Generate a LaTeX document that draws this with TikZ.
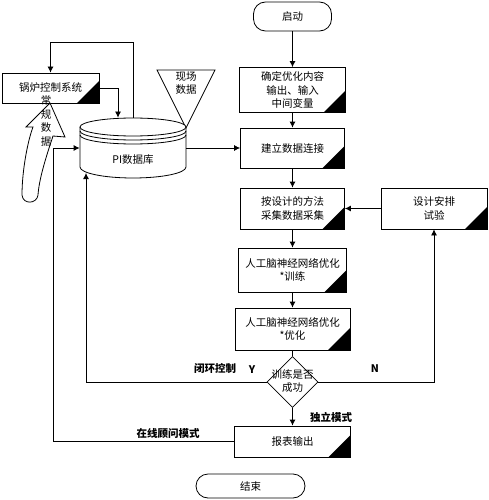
\documentclass[tikz,border=0pt]{standalone}
\usepackage{fontspec}
\setmainfont{Noto Sans CJK SC}
\usetikzlibrary{arrows.meta,shapes.geometric}
\begin{document}
\begin{tikzpicture}[x=1pt,y=-1pt,line width=0.8pt,
		font=\fontsize{10.5}{13.5}\selectfont,
		arr/.style={-{Latex[length=6pt,width=6pt]}},
		kasten/.style={draw,align=center,inner sep=0pt,path picture={\fill (path picture bounding box.south east)--++(-22pt,0pt)--++(22pt,22pt)--cycle;}},
		ende/.style={draw,rounded corners=12pt,inner sep=0pt},
		fett/.style={font=\fontsize{10.5}{13.5}\selectfont\bfseries}]
		\useasboundingbox (0,0) rectangle (488,500);
		% Ablauf rechts
		\node[ende,minimum width=78pt,minimum height=29pt] (start) at (292.5,16.5) {启动};
		\node[kasten,minimum width=106pt,minimum height=45pt] (inhalt) at (292.5,90) {确定优化内容\\输出、输入\\中间变量};
		\node[kasten,minimum width=104pt,minimum height=40pt] (verbind) at (292.5,148) {建立数据连接};
		\node[kasten,minimum width=104pt,minimum height=41pt] (sammeln) at (292.5,208.5) {按设计的方法\\采集数据采集};
		\node[kasten,minimum width=106pt,minimum height=41pt] (versuch) at (434,208.5) {设计安排\\试验};
		\node[kasten,minimum width=108pt,minimum height=44pt] (training) at (292.5,270) {人工脑神经网络优化\\*训练};
		\node[kasten,minimum width=115pt,minimum height=42pt] (optim) at (292.5,329) {人工脑神经网络优化\\*优化};
		\node[draw,diamond,minimum width=51pt,minimum height=51pt,inner sep=0pt] (frage) at (292.5,382) {};
		\node[kasten,minimum width=116pt,minimum height=31pt] (bericht) at (292.5,441.5) {报表输出};
		\node[ende,minimum width=109pt,minimum height=24pt] (ende) at (250.5,486) {结束};
		% links
		\node[kasten,minimum width=97pt,minimum height=30pt] (kessel) at (50.5,88) {锅炉控制系统};
		\draw[fill=white] (157,70)--(215,70)--(186,128)--cycle;
		\node[align=center] (feld) at (186,83) {现场\\数据};
		\node[minimum width=106pt,minimum height=60pt,inner sep=0pt] (pi) at (133,148) {};
		\draw[fill=white] (80,127)--(80,167) arc[start angle=180,end angle=0,x radius=53,y radius=11]--(186,127);
		\draw[fill=white] (133,127) ellipse[x radius=53,y radius=9];
		\draw (80,131) arc[start angle=180,end angle=0,x radius=53,y radius=9];
		\draw (80,135) arc[start angle=180,end angle=0,x radius=53,y radius=9];
		\node (pitext) at (133,160) {PI数据库};
		\coordinate (piunten) at (86,173);
		\draw[fill=white] (50,103)--(65,137)--(53,136) .. controls (45,160) and (39,180) .. (38,195) .. controls (37,204) and (23,205) .. (22,195) .. controls (22,170) and (28,140) .. (33,127)--(26,127)--cycle;
		\node[align=center] (regel) at (46,121) {常\\规\\数\\据};
		% Verbindungen
		\draw[arr] (start)--(inhalt);
		\draw[arr] (inhalt)--(verbind);
		\draw[arr] (verbind)--(sammeln);
		\draw[arr] (sammeln)--(training);
		\draw[arr] (training)--(optim);
		\draw (optim)--(frage);
		\draw[arr] (frage)--(bericht);
		\draw[arr] (versuch)--(sammeln);
		\draw[arr] (frage.east)-|(versuch.south);
		\draw[arr] (pi.east)--(verbind.west);
		\draw[arr] (kessel.east)-|([xshift=-15pt]pi.north);
		\draw[arr] (pi.north)--++(0,-75)-|(kessel.north);
		\draw[arr] (bericht.west)--++(-181,0)|-(pi.west);
		\draw[arr] (frage.west)-|(piunten);
		\node[align=center] (fragetext) at (292.5,381) {训练是否\\成功};
		\node[fett] (geschl) at (215,368) {闭环控制};
		\node[fett] (ja) at (252,370) {Y};
		\node[fett] (nein) at (375,369) {N};
		\node[fett] (allein) at (331,417) {独立模式};
		\node[fett] (online) at (168,434) {在线顾问模式};
	\end{tikzpicture}
\end{document}
